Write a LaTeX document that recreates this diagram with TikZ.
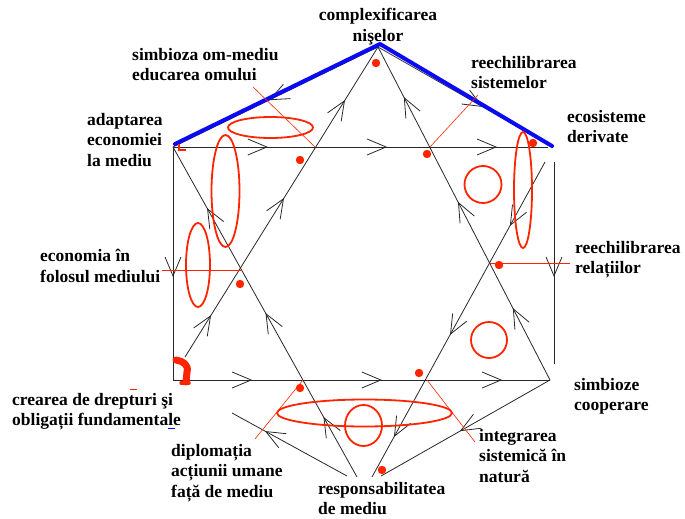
\documentclass[tikz,border=0pt]{standalone}
\usepackage{fontspec}
\setmainfont{Liberation Serif}
\usetikzlibrary{arrows.meta,decorations.markings}
\definecolor{redc}{RGB}{255,36,0}
\definecolor{bluec}{RGB}{10,10,245}
\definecolor{linec}{RGB}{40,40,40}
\begin{document}
\begin{tikzpicture}[x=1pt,y=-1pt,
  edge/.style={draw=linec,line width=0.8pt},
  arr/.style={postaction={decorate,decoration={markings,mark=at position #1 with {\arrow[linec,line width=0.8pt]{Straight Barb[length=19pt,width=16pt]}}}}},
  lbl/.style={font=\fontsize{17.5}{20.6}\selectfont\bfseries, inner sep=0pt, align=left, anchor=north west},
  lead/.style={draw=redc, line width=0.6pt},
  ring/.style={draw=redc, line width=1.8pt},
  roof/.style={draw=bluec, line width=4pt, line cap=round, line join=round}
]
\useasboundingbox (0,0) rectangle (685,519);

% main points
\coordinate (TL) at (173,147);
\coordinate (TE) at (548,147);
\coordinate (TR) at (553,147);
\coordinate (AP) at (378,47);
\coordinate (BLc) at (173,380);
\coordinate (BRc) at (550,380);
\coordinate (ULb) at (185,357);
\coordinate (DRt) at (545,162);
\coordinate (BL1) at (357,477);
\coordinate (BR1) at (372,477);
\coordinate (BB) at (381,476);
\coordinate (BL2) at (347,476);
\coordinate (RVt) at (554,162);
\coordinate (RVb) at (554,364);
\coordinate (OBL) at (232,413);
% crossings
\coordinate (XL) at (242,270);
\coordinate (XR) at (490,263);
\coordinate (P1) at (315,147);
\coordinate (P2) at (430,147);
\coordinate (P3) at (303,380);
\coordinate (P4) at (427,380);
% leader ends
\coordinate (Q1) at (253,87);
\coordinate (Q2) at (478,95);
\coordinate (Q3) at (162,270);
\coordinate (Q4) at (570,263);
\coordinate (Q5) at (255,439);
\coordinate (Q6) at (475,442);
% roof
\coordinate (RfL) at (175,144);
\coordinate (RfA) at (380,44);
\coordinate (RfR) at (552,146);

% black frame and star
\draw[edge, arr=0.253, arr=0.571, arr=0.864] (TL) -- (TE);
\draw[edge, arr=0.21, arr=0.554, arr=0.873] (BLc) -- (BRc);
\draw[edge, arr=0.558] (TL) -- (BLc);
\draw[edge, arr=0.569] (RVt) -- (RVb);
\draw[edge, arr=0.533] (BRc) -- (BB);
\draw[edge, arr=0.713] (BL2) -- (OBL);
\draw[edge, arr=0.135, arr=0.513, arr=0.829] (ULb) -- (AP);
\draw[edge, arr=0.216, arr=0.535, arr=0.85] (BRc) -- (AP);
\draw[edge, arr=0.182, arr=0.497, arr=0.815] (BL1) -- (TL);
\draw[edge, arr=0.203, arr=0.549, arr=0.873] (DRt) -- (BR1);
\draw[edge, arr=0.532] (AP) -- (TL);
\draw[edge, arr=0.6] (AP) -- (TR);

% blue roof
\draw[roof] (RfL) -- (RfA) -- (RfR);

% red leader lines
\draw[lead] (Q1) -- (P1);
\draw[lead] (Q2) -- (P2);
\draw[lead] (Q3) -- (XL);
\draw[lead] (XR) -- (Q4);
\draw[lead] (Q5) -- (P3);
\draw[lead] (P4) -- (Q6);

% red ellipses and circles
\draw[ring] (270.5,127.5) ellipse [x radius=42.5pt, y radius=10.5pt];
\draw[ring] (225.5,191) ellipse [x radius=14pt, y radius=56pt];
\draw[ring] (198,265) ellipse [x radius=12pt, y radius=42pt];
\draw[ring] (483,184.5) circle (18.5pt);
\draw[ring] (523,190) ellipse [x radius=9pt, y radius=58pt];
\draw[ring] (489,340) circle (18pt);
\draw[ring] (364.5,413) ellipse [x radius=87.5pt, y radius=13.5pt];
\draw[ring] (363.5,425.5) ellipse [x radius=18.5pt, y radius=20.5pt];

% red dots
\foreach \p in {(376,63),(300,160),(427,154),(533,143),(240,284),(499,265),(300,388),(419,373),(382,470)}
  \fill[redc] \p circle (4.2pt);

% red blob and small marks
\draw[redc, line width=7pt, line cap=round, line join=round]
  (176,360) .. controls (183,361) and (189,365) .. (187,372) -- (186,382);
\draw[redc, line width=3.5pt, line cap=round] (181,383) -- (189,383);
\draw[redc, line width=1.2pt] (179,144) -- (179,150) -- (186,150);
\draw[redc, line width=1pt] (130,389) -- (137,389);
\draw[bluec, line width=1pt] (168,428) -- (175,428);

% labels
\node[lbl, anchor=north, align=center] (n1) at (378,8) {complexificarea\\nişelor};
\node[lbl] (n2) at (132,48) {simbioza om-mediu\\educarea omului};
\node[lbl] (n3) at (471,56) {reechilibrarea\\sistemelor};
\node[lbl] (n4) at (87,113) {adaptarea\\economiei\\la mediu};
\node[lbl] (n5) at (567,110) {ecosisteme\\derivate};
\node[lbl] (n6) at (40,249) {economia în\\folosul mediului};
\node[lbl] (n7) at (575,241) {reechilibrarea\\relațiilor};
\node[lbl] (n8) at (12,393) {crearea de drepturi şi\\obligații fundamentale};
\node[lbl] (n9) at (574,378) {simbioze\\cooperare};
\node[lbl] (n10) at (479,429) {integrarea\\sistemică în\\natură};
\node[lbl] (n11) at (171,444) {diplomația\\acțiunii umane\\față de mediu};
\node[lbl] (n12) at (318,482) {responsabilitatea\\de mediu};
\end{tikzpicture}
\end{document}
